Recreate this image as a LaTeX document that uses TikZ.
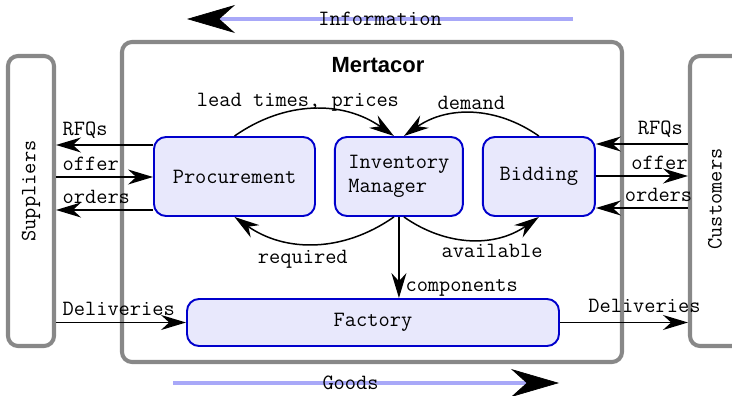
\documentclass[tikz,border=0pt]{standalone}
\usepackage{fontspec}
\setmainfont{Liberation Sans}
\setsansfont{Liberation Sans}
\usetikzlibrary{positioning,arrows.meta}
\definecolor{UnitBlue}{RGB}{0,0,204}
\definecolor{UnitFill}{RGB}{232,232,252}
\definecolor{FrameGray}{RGB}{136,136,136}
\definecolor{FlowBlue}{RGB}{168,168,248}

\begin{document}
\begin{tikzpicture}[
  every node/.style={font=\ttfamily\fontsize{12.4}{13.5}\selectfont, align=center},
  unit/.style={draw=UnitBlue, rounded corners=0.24cm, line width=1.1pt, fill=UnitFill, minimum height=1.58cm},
  frame/.style={draw=FrameGray, rounded corners=0.2cm, line width=2.3pt},
  arr/.style={-{Stealth[length=0.5cm,width=0.3cm]}, line width=0.85pt},
  flow/.style={-{Stealth[length=0.96cm,width=0.56cm,color=black,line width=0.4pt]}, line width=2.8pt, draw=FlowBlue}
]
\useasboundingbox (0,0) rectangle (14.64,-7.92);
\clip (0,0) rectangle (14.64,-7.92);

\node[frame, minimum width=10cm, minimum height=6.4cm] (mert) at (7.44,-4.04) {};
\node[font=\sffamily\bfseries\fontsize{12.5}{14}\selectfont] (title) at ([xshift=0.12cm,yshift=-0.5cm]mert.north) {Mertacor};
\node[frame, minimum width=0.92cm, minimum height=5.8cm] (sup) at (0.62,-4.02) {};
\node[rotate=90] (supname) at ([yshift=0.2cm]sup.center) {Suppliers};
\node[frame, minimum width=1.12cm, minimum height=5.8cm] (cus) at (14.36,-4.02) {};
\node[rotate=90] (cusname) at ([xshift=-0.06cm,yshift=0.04cm]cus.center) {Customers};

\node[unit, minimum width=3.22cm] (proc) at (4.69,-3.53) {Procurement};
\node[unit, minimum width=2.56cm, align=left, right=0.36cm of proc] (inv) {Inventory\\Manager};
\node[unit, minimum width=2.24cm, right=0.36cm of inv] (bid) {Bidding};
\node[unit, minimum width=7.44cm, minimum height=0.94cm] (fac) at (7.46,-6.45) {Factory};

\draw[arr] (proc.west |- 0,-2.90) -- node[pos=1, above right]{RFQs} (sup.east |- 0,-2.90);
\draw[arr] (sup.east |- 0,-3.54) -- node[pos=0, above right]{offer} (proc.west |- 0,-3.54);
\draw[arr] (proc.west |- 0,-4.20) -- node[pos=1, above right]{orders} (sup.east |- 0,-4.20);

\draw[arr] (cus.west |- 0,-2.88) -- node[pos=0.3, above]{RFQs} (bid.east |- 0,-2.88);
\draw[arr] (bid.east |- 0,-3.52) -- node[pos=0.69, above]{offer} (cus.west |- 0,-3.52);
\draw[arr] (cus.west |- 0,-4.16) -- node[pos=0.32, above]{orders} (bid.east |- 0,-4.16);

\draw[arr] (proc.north) to[bend left=35] node[pos=0.4, above, yshift=-0.16cm]{lead times, prices} ([xshift=-0.1cm]inv.north);
\draw[arr] (bid.north) to[bend right=35] node[above, yshift=-0.06cm]{demand} ([xshift=0.1cm]inv.north);
\draw[arr] ([xshift=-0.1cm]inv.south) to[bend left=35] node[pos=0.57, below]{required} (proc.south);
\draw[arr] ([xshift=0.1cm]inv.south) to[bend right=35] node[pos=0.65, below]{available} (bid.south);
\draw[arr] (inv.south) -- node[pos=1, above right, yshift=-0.1cm]{components} (inv.south |- fac.north);

\draw[arr] (sup.east |- fac.west) -- node[pos=0, above right]{Deliveries} (fac.west);
\draw[arr] (fac.east) -- node[pos=0.66, above, yshift=0.06cm]{Deliveries} (fac.east -| cus.west);

\coordinate (infoFrom) at (11.46,-0.38);
\coordinate (infoTo) at (3.74,-0.38);
\draw[flow] (infoFrom) -- node{Information} (infoTo);
\coordinate (goodsFrom) at (3.46,-7.66);
\coordinate (goodsTo) at (11.18,-7.66);
\draw[flow] (goodsFrom) -- node[pos=0.46]{Goods} (goodsTo);
\end{tikzpicture}
\end{document}
